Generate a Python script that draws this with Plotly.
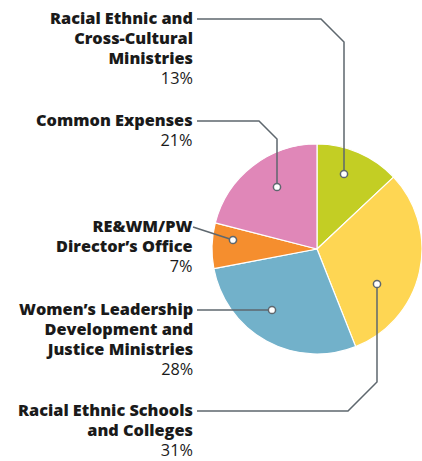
import plotly.graph_objects as go

W, H = 422, 461

categories = [
    "Racial Ethnic and<br>Cross-Cultural<br>Ministries",
    "Racial Ethnic Schools<br>and Colleges",
    "Women’s Leadership<br>Development and<br>Justice Ministries",
    "RE&WM/PW<br>Director’s Office",
    "Common Expenses",
]
values = [13, 31, 28, 7, 21]
colors = ["#C3CE24", "#FED653", "#72B1CA", "#F58E2E", "#E087B8"]

# label placement (pixel y of first line's leader) and leader path (pixel points, ending at dot)
label_top = [19, 411, 310, 227, 121]
leaders = [
    [(197, 19), (321, 19), (344, 42), (344, 174)],
    [(197, 411), (348, 411), (377, 382), (377, 284)],
    [(197, 310), (272, 310)],
    [(193, 227), (233, 240)],
    [(197, 121), (259, 121), (277, 139), (277, 187)],
]

FONT = "Open Sans"

def px(x):
    return x / W

def py(y):
    return 1 - y / H

fig = go.Figure(go.Pie(
    values=values,
    labels=[c.replace("<br>", " ") for c in categories],
    sort=False,
    direction="clockwise",
    rotation=0,
    marker=dict(colors=colors, line=dict(color="white", width=1.2)),
    textinfo="none",
    hoverinfo="label+percent",
    showlegend=False,
    domain=dict(x=[1 - 210 / W, 1.0], y=[py(354), py(144)]),
))

shapes = []
annotations = []
for cat, val, ly, pts in zip(categories, values, label_top, leaders):
    path = "M " + " L ".join(f"{px(x):.5f},{py(y):.5f}" for x, y in pts)
    shapes.append(dict(type="path", xref="paper", yref="paper", path=path,
                       line=dict(color="#5E676E", width=1.5)))
    dx, dy = pts[-1]
    r = 3.6
    shapes.append(dict(type="circle", xref="paper", yref="paper",
                       x0=px(dx - r), x1=px(dx + r), y0=py(dy + r), y1=py(dy - r),
                       fillcolor="white", line=dict(color="#5E676E", width=1.5)))
    bold = "<br>".join(
        f"<span style='font-size:16.3px;font-weight:800'>{t}</span>" for t in cat.split("<br>")
    )
    text = f"{bold}<br><span style='font-size:16.3px'>{val}%</span>"
    annotations.append(dict(
        x=px(194), y=py(ly - 13), xref="paper", yref="paper",
        xanchor="right", yanchor="top", align="right",
        text=text, showarrow=False, borderpad=0,
        font=dict(family=FONT, size=15.3, color="#1A1A1A"),
    ))

fig.update_layout(
    width=W, height=H,
    margin=dict(l=0, r=0, t=0, b=0),
    paper_bgcolor="white", plot_bgcolor="white",
    shapes=shapes, annotations=annotations,
)

fig.write_html("out.html", config={"displayModeBar": False},
               post_script="document.body.style.margin='0';document.body.style.overflow='hidden';")
